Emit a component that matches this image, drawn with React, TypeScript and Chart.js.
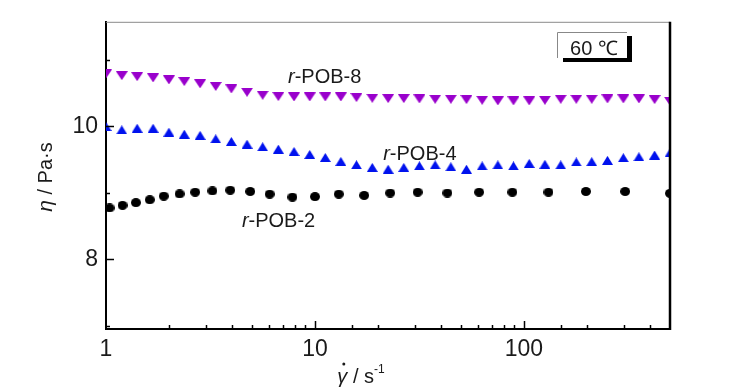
import React, { useEffect, useRef } from 'react';
import { Chart, registerables } from 'chart.js';

Chart.register(...registerables);

// ---- data ----
const shearRate8 = [1, 1.19, 1.41, 1.68, 2.0, 2.37, 2.82, 3.35, 3.98, 4.73, 5.62, 6.68, 7.94, 9.44, 11.2, 13.3, 15.8, 18.8, 22.4, 26.6, 31.6, 37.6, 44.7, 53.1, 63.1, 75.0, 89.1, 106, 126, 150, 178, 211, 251, 299, 355, 422, 500];
const eta8 = [10.785, 10.76, 10.745, 10.726, 10.696, 10.671, 10.637, 10.597, 10.56, 10.51, 10.465, 10.445, 10.44, 10.44, 10.44, 10.44, 10.43, 10.42, 10.415, 10.415, 10.41, 10.405, 10.405, 10.4, 10.39, 10.38, 10.38, 10.38, 10.39, 10.405, 10.405, 10.405, 10.41, 10.41, 10.41, 10.4, 10.375];

const shearRate4 = [1, 1.19, 1.41, 1.68, 2.0, 2.37, 2.82, 3.35, 3.98, 4.73, 5.62, 6.68, 7.94, 9.44, 11.2, 13.3, 15.8, 18.8, 22.4, 26.6, 31.6, 37.6, 44.7, 53.1, 63.1, 75.0, 89.1, 106, 126, 150, 178, 211, 251, 299, 355, 422, 500];
const eta4 = [9.996, 9.945, 9.97, 9.97, 9.91, 9.88, 9.862, 9.81, 9.77, 9.73, 9.69, 9.655, 9.62, 9.575, 9.53, 9.47, 9.42, 9.38, 9.353, 9.38, 9.405, 9.418, 9.39, 9.353, 9.403, 9.418, 9.403, 9.44, 9.427, 9.418, 9.462, 9.467, 9.486, 9.526, 9.54, 9.566, 9.6];

const shearRate2 = [1.04, 1.2, 1.39, 1.62, 1.89, 2.25, 2.67, 3.23, 3.93, 4.9, 6.07, 7.8, 10.0, 13.0, 17.2, 22.9, 31.0, 43.0, 61.0, 88.0, 131, 198, 305, 500];
const eta2 = [8.77, 8.81, 8.85, 8.893, 8.948, 8.982, 9.007, 9.027, 9.037, 9.018, 8.978, 8.933, 8.94, 8.978, 8.959, 8.995, 9.007, 8.995, 9.007, 9.007, 9.007, 9.018, 9.018, 8.99];

const seriesNames = ['r-POB-2', 'r-POB-4', 'r-POB-8'];
const labelX = [4.47, 21.2, 7.43];
const labelY = [8.593, 9.6, 10.756];

const xTickLabels = [1, 10, 100];
const yTickValues = [7, 8, 9, 10, 11];
const yTickLabels = [8, 10];
const tempLabel = '60 ℃';

const FAM = '"Liberation Sans", Arial, Helvetica, sans-serif';
const NARROW = '"Liberation Sans Narrow", "Arial Narrow", "Liberation Sans", Arial, sans-serif';
const PURPLE = '#9900cc';
const BLUE = '#0012ee';

function makeMarker(shape: string, color: string, w: number, h: number) {
  const c = document.createElement('canvas');
  c.width = w;
  c.height = h;
  const ctx = c.getContext('2d')!;
  ctx.fillStyle = color;
  ctx.beginPath();
  if (shape === 'down') {
    ctx.moveTo(0, 0);
    ctx.lineTo(w, 0);
    ctx.lineTo(w / 2, h);
  } else if (shape === 'up') {
    ctx.moveTo(w / 2, 0);
    ctx.lineTo(w, h);
    ctx.lineTo(0, h);
  } else {
    ctx.ellipse(w / 2, h / 2, w / 2, h / 2, 0, 0, Math.PI * 2);
  }
  ctx.closePath();
  ctx.fill();
  return c;
}

type Part = { text: string; font: string; dy?: number };
function drawParts(ctx: CanvasRenderingContext2D, parts: Part[], x: number, y: number, align: 'left' | 'center') {
  const widths = parts.map((p) => {
    ctx.font = p.font;
    return ctx.measureText(p.text).width;
  });
  const total = widths.reduce((a, b) => a + b, 0);
  let cx = align === 'center' ? x - total / 2 : x;
  const starts: number[] = [];
  parts.forEach((p, i) => {
    ctx.font = p.font;
    starts.push(cx);
    ctx.fillText(p.text, cx, y + (p.dy || 0));
    cx += widths[i];
  });
  return { starts, widths };
}

const decorPlugin = {
  id: 'decor',
  afterDraw(chart: any) {
    const ctx: CanvasRenderingContext2D = chart.ctx;
    const { left, right, top, bottom } = chart.chartArea;
    const xs = chart.scales.x;
    const ys = chart.scales.y;
    ctx.save();
    // frame: top (thin gray) and right (black)
    ctx.strokeStyle = '#8a8a8a';
    ctx.lineWidth = 1;
    ctx.beginPath();
    ctx.moveTo(left, top + 0.5);
    ctx.lineTo(right, top + 0.5);
    ctx.stroke();
    ctx.strokeStyle = '#000';
    ctx.lineWidth = 2.5;
    ctx.beginPath();
    ctx.moveTo(right, top);
    ctx.lineTo(right, bottom + 1);
    ctx.stroke();

    // inward tick marks
    ctx.lineWidth = 1.5;
    ctx.strokeStyle = '#000';
    xs.ticks.forEach((t: any) => {
      const px = Math.round(xs.getPixelForValue(t.value)) + 0.5;
      if (px <= left + 1 || px >= right - 1) return;
      const len = xTickLabels.includes(t.value) ? 8 : 4;
      ctx.beginPath();
      ctx.moveTo(px, bottom);
      ctx.lineTo(px, bottom - len);
      ctx.stroke();
    });
    ys.ticks.forEach((t: any) => {
      const py = Math.round(ys.getPixelForValue(t.value)) + 0.5;
      if (py >= bottom - 1 || py <= top + 1) return;
      const len = yTickLabels.includes(t.value) ? 8 : 4;
      ctx.beginPath();
      ctx.moveTo(left, py);
      ctx.lineTo(left + len, py);
      ctx.stroke();
    });

    ctx.fillStyle = '#1a1a1a';
    ctx.textBaseline = 'alphabetic';

    // y axis title
    ctx.save();
    ctx.translate(52, 177);
    ctx.rotate(-Math.PI / 2);
    drawParts(ctx, [
      { text: 'η', font: `italic 21px ${FAM}` },
      { text: ' / Pa·s', font: `20px ${FAM}` },
    ], 0, 0, 'center');
    ctx.restore();

    // x axis title
    const r = drawParts(ctx, [
      { text: 'γ', font: `italic 20px ${FAM}` },
      { text: ' / s', font: `20px ${FAM}` },
      { text: '-1', font: `12px ${FAM}`, dy: -10 },
    ], 361, 383, 'center');
    ctx.beginPath();
    ctx.arc(r.starts[0] + r.widths[0] / 2 + 1.5, 364, 1.5, 0, Math.PI * 2);
    ctx.fill();

    // series labels
    seriesNames.forEach((name, i) => {
      const px = xs.getPixelForValue(labelX[i]);
      const py = ys.getPixelForValue(labelY[i]) + 7;
      drawParts(ctx, [
        { text: name.slice(0, 1), font: `italic 20px ${FAM}` },
        { text: name.slice(1), font: `20px ${FAM}` },
      ], px, py, 'left');
    });

    // temperature box with shadow
    ctx.fillStyle = '#000';
    ctx.fillRect(563, 36, 69, 26);
    ctx.fillStyle = '#fff';
    ctx.fillRect(557, 32, 70, 26);
    ctx.strokeStyle = '#888';
    ctx.lineWidth = 1;
    ctx.beginPath();
    ctx.moveTo(557.5, 58);
    ctx.lineTo(557.5, 32.5);
    ctx.lineTo(627, 32.5);
    ctx.stroke();
    ctx.fillStyle = '#1a1a1a';
    ctx.font = `20px ${FAM}`;
    ctx.textAlign = 'center';
    ctx.fillText(tempLabel, 594, 55);
    ctx.restore();
  },
};

export default function App() {
  const ref = useRef<HTMLCanvasElement>(null);
  useEffect(() => {
    if (!ref.current) return;
    const downTri = makeMarker('down', PURPLE, 12, 9);
    const upTri = makeMarker('up', BLUE, 11, 9);
    const dot = makeMarker('ellipse', '#000', 10, 9);
    const tickFont = { family: NARROW, size: 23 };
    const chart = new Chart(ref.current, {
      type: 'scatter',
      data: {
        datasets: [
          {
            label: seriesNames[0],
            data: shearRate2.map((x, i) => ({ x, y: eta2[i] })),
            pointStyle: dot as any,
            pointRadius: 5,
            backgroundColor: '#000',
            clip: 0,
          },
          {
            label: seriesNames[1],
            data: shearRate4.map((x, i) => ({ x, y: eta4[i] })),
            pointStyle: upTri as any,
            pointRadius: 5,
            backgroundColor: BLUE,
            clip: 0,
          },
          {
            label: seriesNames[2],
            data: shearRate8.map((x, i) => ({ x, y: eta8[i] })),
            pointStyle: downTri as any,
            pointRadius: 5,
            backgroundColor: PURPLE,
            clip: 0,
          },
        ],
      },
      options: {
        animation: false,
        responsive: false,
        layout: { padding: { left: 0, top: 17, right: 59, bottom: 0 } },
        plugins: { legend: { display: false }, tooltip: { enabled: false } },
        scales: {
          x: {
            type: 'logarithmic',
            min: 1,
            max: 500,
            grid: { display: false, drawTicks: false },
            border: { display: true, color: '#000', width: 2 },
            ticks: {
              autoSkip: false,
              maxRotation: 0,
              padding: 7,
              color: '#1a1a1a',
              font: tickFont,
              callback: (v: any) => (xTickLabels.includes(Number(v)) ? String(v) : ''),
            },
            afterFit: (s: any) => {
              s.height = 61;
            },
          },
          y: {
            type: 'linear',
            min: 6.95,
            max: 11.57,
            grid: { display: false, drawTicks: false },
            border: { display: true, color: '#000', width: 2 },
            afterBuildTicks: (s: any) => {
              s.ticks = yTickValues.map((v) => ({ value: v }));
            },
            ticks: {
              padding: 8,
              color: '#1a1a1a',
              font: tickFont,
              callback: (v: any) => (yTickLabels.includes(Number(v)) ? String(v) : ''),
            },
            afterFit: (s: any) => {
              s.width = 106;
            },
          },
        },
      },
      plugins: [decorPlugin],
    });
    return () => chart.destroy();
  }, []);
  return (
    <div style={{ position: 'fixed', left: 0, top: 0, width: 729, height: 390, background: '#fff' }}>
      <canvas ref={ref} width={729} height={390} style={{ display: 'block' }} />
    </div>
  );
}
